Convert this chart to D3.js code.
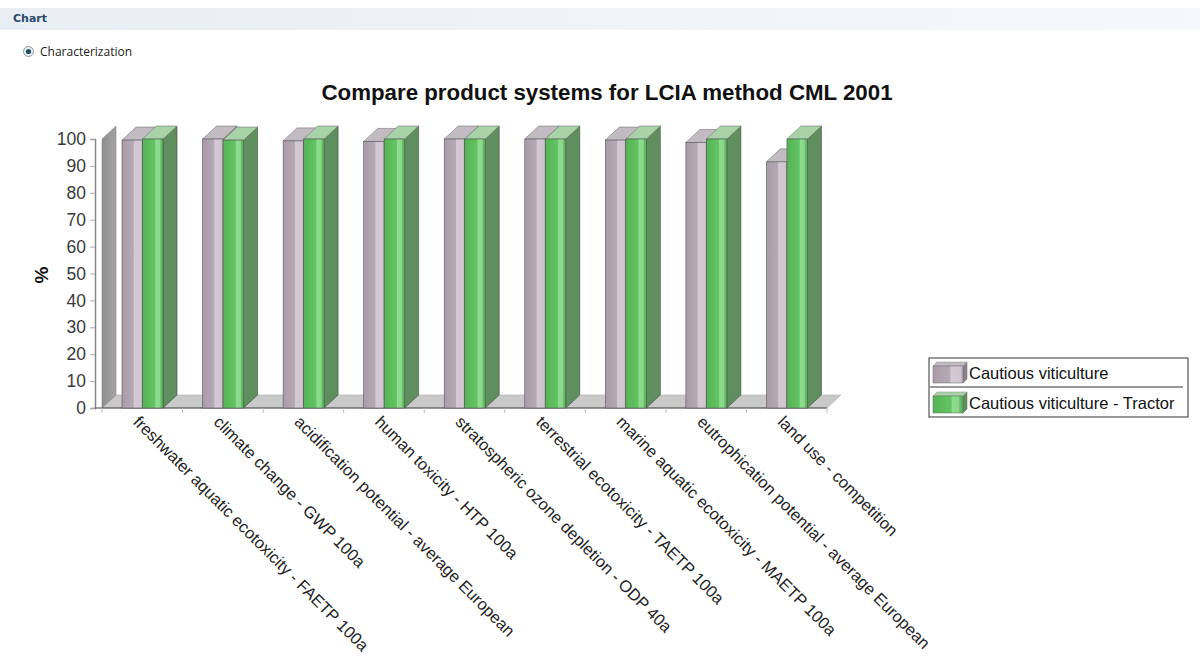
<!DOCTYPE html>
<html>
<head>
<meta charset="utf-8">
<script src="https://cdn.jsdelivr.net/npm/d3@7"></script>
<style>
  body { margin: 0; background: #fff; font-family: "Liberation Sans", Arial, sans-serif; }
  svg { display: block; }
</style>
</head>
<body>
<div id="chart"></div>
<script>
var WIDTH = 1200;
var HEIGHT = 657;

// data (percent of the larger system)
var categories = [
    "freshwater aquatic ecotoxicity - FAETP 100a",
    "climate change - GWP 100a",
    "acidification potential - average European",
    "human toxicity - HTP 100a",
    "stratospheric ozone depletion - ODP 40a",
    "terrestrial ecotoxicity - TAETP 100a",
    "marine aquatic ecotoxicity - MAETP 100a",
    "eutrophication potential - average European",
    "land use - competition"
];
var seriesNames = ["Cautious viticulture", "Cautious viticulture - Tractor"];
var viticulture = [99.6, 100, 99.3, 99.1, 100, 100, 99.6, 98.7, 91.5];
var tractor = [100, 99.6, 100, 100, 100, 100, 100, 100, 100];
var yTicks = [0, 10, 20, 30, 40, 50, 60, 70, 80, 90, 100];

var DX = 14, DY = -13;   // 3d depth offset

var svg = d3.select("#chart").append("svg")
    .attr("width", WIDTH).attr("height", HEIGHT);

var defs = svg.append("defs");

function hgrad(id, stops) {
    let g = defs.append("linearGradient").attr("id", id)
        .attr("x1", 0).attr("x2", 1).attr("y1", 0).attr("y2", 0);
    stops.forEach(s => g.append("stop").attr("offset", s[0]).attr("stop-color", s[1]));
}
hgrad("purpleFront", [[0, "#a99ba9"], [0.55, "#b6a9b6"], [0.6, "#d4c8d4"], [0.9, "#d2c6d2"], [1, "#bcafbc"]]);
hgrad("greenFront", [[0, "#55b455"], [0.6, "#63c463"], [0.65, "#8fdc8f"], [0.85, "#8ad68a"], [0.9, "#5fbf5f"], [1, "#58b558"]]);
hgrad("wallGrad", [[0, "#8e8e8e"], [1, "#a4a4a4"]]);
hgrad("headGrad", [[0, "#e9eef4"], [1, "#f6f8fb"]]);

// header strip
svg.append("rect").attr("x", 0).attr("y", 8).attr("width", WIDTH).attr("height", 22)
    .attr("fill", "url(#headGrad)");
svg.append("text").attr("x", 13).attr("y", 22)
    .attr("font-size", 11).attr("font-weight", "bold").attr("fill", "#2b4a6a")
    .attr("font-family", "'DejaVu Sans', sans-serif")
    .text("Chart");

// radio button
svg.append("circle").attr("cx", 28.5).attr("cy", 51.5).attr("r", 5)
    .attr("fill", "#e8eef2").attr("stroke", "#8a9aa6");
svg.append("circle").attr("cx", 28.5).attr("cy", 51.5).attr("r", 2.6)
    .attr("fill", "#1f4e63");
svg.append("text").attr("x", 40).attr("y", 56)
    .attr("font-size", 12).attr("fill", "#222")
    .attr("font-family", "'Open Sans', 'DejaVu Sans', sans-serif")
    .text("Characterization");

// title
svg.append("text").attr("x", 607).attr("y", 100)
    .attr("text-anchor", "middle").attr("font-size", 22.3).attr("font-weight", "bold")
    .attr("fill", "#111")
    .text("Compare product systems for LCIA method CML 2001");

// scales
var y = d3.scaleLinear().domain([0, 100]).range([408, 139]);
var x0 = d3.scaleBand().domain(categories).range([102, 827]).padding(0);
var x1 = d3.scaleBand().domain(seriesNames).range([20, 61]).padding(0);

// y axis label
svg.append("text")
    .attr("transform", "translate(48,275) rotate(-90)")
    .attr("text-anchor", "middle").attr("font-size", 19).attr("font-weight", "bold")
    .attr("fill", "#111").text("%");

// floor
var x_start = 102, x_end = 827, y0 = y(0);
svg.append("path")
    .attr("d", `M${x_start},${y0} L${x_end},${y0} L${x_end + DX},${y0 + DY} L${x_start + DX},${y0 + DY} Z`)
    .attr("fill", "#c9c9c9").attr("stroke", "#b0b0b0").attr("stroke-width", 0.6);

// back/left wall
svg.append("path")
    .attr("d", `M${x_start},${y0} L${x_start + DX},${y0 + DY} L${x_start + DX},${y(100) + DY} L${x_start},${y(100)} Z`)
    .attr("fill", "url(#wallGrad)").attr("stroke", "#888").attr("stroke-width", 0.6);

// y axis
var yAxis = svg.append("g")
    .attr("transform", "translate(95,0)")
    .call(d3.axisLeft(y).tickValues(yTicks).tickSize(5).tickPadding(4));
yAxis.select(".domain").attr("stroke", "#888").attr("stroke-width", 1.5);
yAxis.selectAll(".tick line").attr("stroke", "#aaa");
yAxis.selectAll(".tick text")
    .attr("font-size", 17.5).attr("fill", "#3a3a3a")
    .attr("font-family", "'Liberation Sans', Arial, sans-serif");

// bottom line and ticks
svg.append("line").attr("x1", 95).attr("x2", x_end).attr("y1", y0).attr("y2", y0)
    .attr("stroke", "#444").attr("stroke-width", 1.2);
var tickXs = categories.map(c => x0(c)).concat([x_end]);
svg.append("g").selectAll("line").data(tickXs).join("line")
    .attr("x1", d => d).attr("x2", d => d)
    .attr("y1", y0).attr("y2", y0 + 5)
    .attr("stroke", "#bbb");

// bars
var styles = [
    { front: "url(#purpleFront)", side: "#8f828f", top: "#c2bcc2" },
    { front: "url(#greenFront)", side: "#5f8f5f", top: "#a8d2a8" }
];

function drawBox(g, xl, w, yt, st) {
    let yb = y0;
    g.append("path")
        .attr("d", `M${xl + w},${yb} L${xl + w + DX},${yb + DY} L${xl + w + DX},${yt + DY} L${xl + w},${yt} Z`)
        .attr("fill", st.side).attr("stroke", "#3f4f3f").attr("stroke-width", 0.6);
    g.append("path")
        .attr("d", `M${xl},${yt} L${xl + w},${yt} L${xl + w + DX},${yt + DY} L${xl + DX},${yt + DY} Z`)
        .attr("fill", st.top).attr("stroke", "#777").attr("stroke-width", 0.6);
    g.append("rect")
        .attr("x", xl).attr("y", yt).attr("width", w).attr("height", yb - yt)
        .attr("fill", st.front).attr("stroke", "#555").attr("stroke-width", 0.6);
}

var seriesValues = [viticulture, tractor];
var gBars = svg.append("g");
categories.forEach((c, i) => {
    seriesNames.forEach((s, j) => {
        drawBox(gBars, x0(c) + x1(s), x1.bandwidth(), y(seriesValues[j][i]), styles[j]);
    });
});

// category labels
svg.append("g").selectAll("text").data(categories).join("text")
    .attr("transform", d => `translate(${x0(d) + x0.bandwidth() / 2 - 10},${y0 + 15}) rotate(45)`)
    .attr("font-size", 16.5).attr("fill", "#222")
    .text(d => d);

// legend
var legend = svg.append("g").attr("transform", "translate(929,358)");
legend.append("rect").attr("x", 0).attr("y", 0).attr("width", 259).attr("height", 59)
    .attr("fill", "#fff").attr("stroke", "#333");
legend.append("line").attr("x1", 1).attr("x2", 254).attr("y1", 29).attr("y2", 29)
    .attr("stroke", "#333");
seriesNames.forEach((s, j) => {
    let row = legend.append("g").attr("transform", `translate(4,${4 + j * 30})`);
    let st = styles[j];
    row.append("path").attr("d", "M30,4 L34,0 L34,17 L30,21 Z").attr("fill", st.side).attr("stroke", "#666").attr("stroke-width", 0.5);
    row.append("path").attr("d", "M0,4 L30,4 L34,0 L4,0 Z").attr("fill", st.top).attr("stroke", "#888").attr("stroke-width", 0.5);
    row.append("rect").attr("x", 0).attr("y", 4).attr("width", 30).attr("height", 17)
        .attr("fill", st.front).attr("stroke", "#666").attr("stroke-width", 0.5);
    row.append("text").attr("x", 36).attr("y", 17)
        .attr("font-size", 16.5).attr("fill", "#111").text(s);
});
</script>
</body>
</html>
